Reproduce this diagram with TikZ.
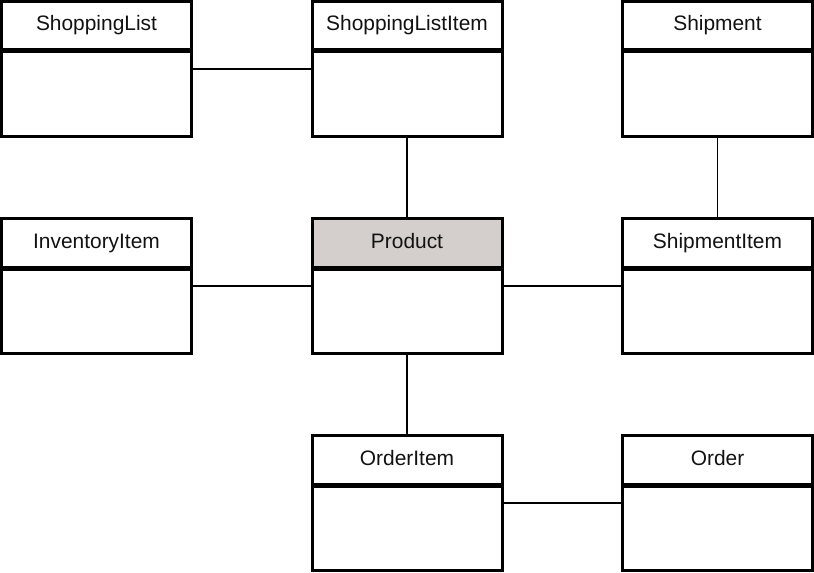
\documentclass[tikz,border=0pt]{standalone}
\usepackage{fontspec}
\setmainfont{Liberation Sans}
\definecolor{headgray}{RGB}{212,207,204}

\tikzset{
  classbox/.style={draw, line width=3bp, minimum width=190bp, minimum height=135bp, inner sep=0pt,
    path picture={
      \fill[#1] (path picture bounding box.north west) rectangle ([yshift=-49.5bp]path picture bounding box.north east);
      \draw[line width=5bp] ([yshift=-49.5bp]path picture bounding box.north west) -- ([yshift=-49.5bp]path picture bounding box.north east);
    }},
  classbox/.default=white,
  classname/.style={font=\fontsize{21}{25}\selectfont, text=black!93, anchor=base, inner sep=0pt},
  assoc/.style={line width=1.2bp},
}

\begin{document}
\begin{tikzpicture}[line cap=butt,line join=miter,x=1bp,y=-1bp]
	\useasboundingbox (0,0) rectangle (814,573);
	% classes
	\foreach \nm/\x/\y/\lbl in {shoplist/96.5/69/ShoppingList, shopitem/407/69/ShoppingListItem, shipment/717.5/69/Shipment,
		inventory/96.5/286/InventoryItem, shipitem/717.5/286/ShipmentItem,
		orderitem/407/503/OrderItem, order/717.5/503/Order}{
		\node[classbox] (\nm) at (\x,\y) {};
		\node[classname] at ([yshift=-31bp]\nm.north) {\lbl};
	}
	\node[classbox=headgray] (product) at (407,286) {};
	\node[classname] at ([yshift=-31bp]product.north) {Product};
	% associations
	\draw[assoc] (shoplist.east) -- (shopitem.west);
	\draw[assoc] (shopitem.south) -- (product.north);
	\draw[assoc] (shipment.south) -- (shipitem.north);
	\draw[assoc] (inventory.east) -- (product.west);
	\draw[assoc] (product.east) -- (shipitem.west);
	\draw[assoc] (product.south) -- (orderitem.north);
	\draw[assoc] (orderitem.east) -- (order.west);
\end{tikzpicture}
\end{document}
